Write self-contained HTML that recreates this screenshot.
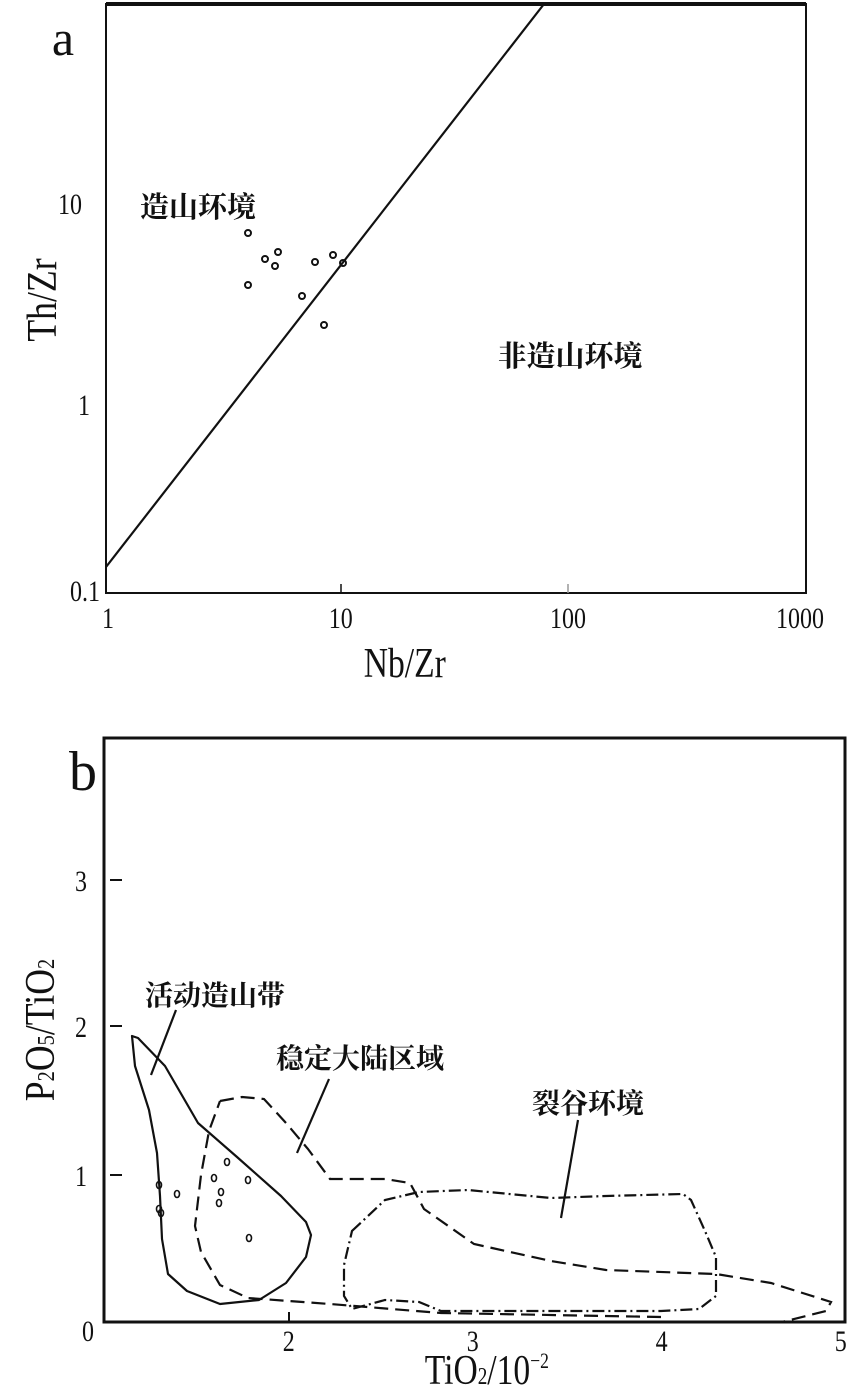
<!DOCTYPE html>
<html><head><meta charset="utf-8"><style>
body{margin:0;background:#fff;}
svg{display:block;}
text{font-family:"Liberation Serif","Noto Serif CJK SC",serif;fill:#111;}
.cjk{font-family:"Liberation Serif","Noto Serif CJK SC","Noto Sans CJK SC",serif;font-weight:bold;}
.t{font-size:30px;}
</style></head><body>
<svg width="859" height="1396" viewBox="0 0 859 1396" xmlns="http://www.w3.org/2000/svg">
<!-- Chart a -->
<rect x="106" y="4" width="700" height="589" fill="none" stroke="#111" stroke-width="2"/>
<line x1="106" y1="4" x2="806" y2="4" stroke="#111" stroke-width="4"/>
<line x1="106" y1="567" x2="544" y2="4" stroke="#111" stroke-width="2.2"/>
<line x1="341" y1="593" x2="341" y2="584" stroke="#111" stroke-width="1.5"/>
<line x1="568" y1="593" x2="568" y2="584" stroke="#999" stroke-width="1.5"/>
<text x="63" y="55" font-size="50" text-anchor="middle">a</text>
<g transform="scale(0.8,1)">
<text x="102.5" y="214" class="t" text-anchor="end">10</text>
<text x="112.5" y="415" class="t" text-anchor="end">1</text>
<text x="125" y="601" class="t" text-anchor="end">0.1</text>
<text x="135" y="628" class="t" text-anchor="middle">1</text>
<text x="426" y="628" class="t" text-anchor="middle">10</text>
<text x="710" y="628" class="t" text-anchor="middle">100</text>
<text x="1000" y="628" class="t" text-anchor="middle">1000</text>
<text x="506" y="677" font-size="42" text-anchor="middle">Nb/Zr</text>
</g>
<text transform="translate(56,300) rotate(-90) scale(0.85,1)" font-size="42" text-anchor="middle">Th/Zr</text>
<text class="cjk" x="198" y="217" font-size="29" text-anchor="middle">造山环境</text>
<text class="cjk" x="570" y="366" font-size="29" text-anchor="middle">非造山环境</text>
<g fill="none" stroke="#111" stroke-width="2">
<circle cx="248" cy="233" r="3"/><circle cx="248" cy="285" r="3"/><circle cx="265" cy="259" r="3"/><circle cx="275" cy="266" r="3"/><circle cx="278" cy="252" r="3"/><circle cx="315" cy="262" r="3"/><circle cx="333" cy="255" r="3"/><circle cx="343" cy="263" r="3"/><circle cx="302" cy="296" r="3"/><circle cx="324" cy="325" r="3"/>
</g>
<!-- Chart b -->
<rect x="104" y="738" width="741" height="584" fill="none" stroke="#111" stroke-width="3"/>
<g stroke="#111" stroke-width="2">
<line x1="110" y1="880" x2="122" y2="880"/><line x1="110" y1="1026" x2="122" y2="1026"/><line x1="110" y1="1175" x2="122" y2="1175"/>
<line x1="289" y1="1322" x2="289" y2="1312"/>
</g>
<text x="83" y="790" font-size="56" text-anchor="middle">b</text>
<g transform="scale(0.8,1)">
<text x="108.75" y="891" class="t" text-anchor="end">3</text>
<text x="108.75" y="1037" class="t" text-anchor="end">2</text>
<text x="108.75" y="1186" class="t" text-anchor="end">1</text>
<text x="110" y="1341" class="t" text-anchor="middle">0</text>
<text x="361" y="1351" class="t" text-anchor="middle">2</text>
<text x="591" y="1351" class="t" text-anchor="middle">3</text>
<text x="827" y="1351" class="t" text-anchor="middle">4</text>
<text x="1051" y="1351" class="t" text-anchor="middle">5</text>
<text x="531" y="1384" font-size="42">TiO<tspan font-size="24">2</tspan>/10<tspan font-size="22" dy="-16">−2</tspan></text>
</g>
<text transform="translate(54,1030) rotate(-90) scale(0.85,1)" font-size="42" text-anchor="middle">P<tspan font-size="24">2</tspan>O<tspan font-size="24">5</tspan>/TiO<tspan font-size="24">2</tspan></text>
<text class="cjk" x="215" y="1005" font-size="28" text-anchor="middle">活动造山带</text>
<text class="cjk" x="360" y="1068" font-size="28" text-anchor="middle">稳定大陆区域</text>
<text class="cjk" x="588" y="1113" font-size="28" text-anchor="middle">裂谷环境</text>
<g fill="none" stroke="#111" stroke-width="2.2">
<path d="M132,1036 L138,1038 L165,1066 L198,1123 L237,1157 L281,1196 L306,1222 L311,1235 L306,1257 L286,1283 L259,1300 L220,1304 L187,1291 L168,1274 L162,1239 L160,1196 L157,1153 L149,1110 L135,1066 Z" stroke-linejoin="round"/>
<line x1="176" y1="1010" x2="151" y2="1075"/>
<path d="M220,1101 L242,1097 L264,1099 L286,1123 L308,1149 L330,1179 L385,1179 L410,1183 L424,1209 L474,1244 L551,1261 L606,1270 L716,1274 L771,1283 L831,1302 L826,1311 L782,1322 M661,1317 L441,1313 L330,1304 L248,1298 L220,1285 L201,1252 L195,1226 L201,1175 L209,1131 L220,1101" stroke-dasharray="14,7"/>
<line x1="329" y1="1079" x2="297" y2="1153"/>
<path d="M352,1231 L385,1200 L419,1192 L468,1190 L551,1198 L606,1196 L683,1194 L691,1200 L705,1231 L716,1257 L716,1296 L699,1309 L661,1311 L551,1311 L441,1311 L419,1302 L385,1300 L352,1309 L344,1296 L344,1265 Z" stroke-dasharray="12,4,2,4"/>
<line x1="578" y1="1120" x2="561" y2="1218"/>
</g>
<g fill="none" stroke="#111" stroke-width="1.6">
<ellipse cx="159" cy="1185" rx="2.5" ry="3.5"/><ellipse cx="177" cy="1194" rx="2.5" ry="3.5"/><ellipse cx="159" cy="1209" rx="2.5" ry="3.5"/><ellipse cx="161" cy="1213" rx="2.5" ry="3.5"/><ellipse cx="214" cy="1178" rx="2.5" ry="3.5"/><ellipse cx="227" cy="1162" rx="2.5" ry="3.5"/><ellipse cx="221" cy="1192" rx="2.5" ry="3.5"/><ellipse cx="219" cy="1203" rx="2.5" ry="3.5"/><ellipse cx="248" cy="1180" rx="2.5" ry="3.5"/><ellipse cx="249" cy="1238" rx="2.5" ry="3.5"/>
</g>
</svg>
</body></html>
